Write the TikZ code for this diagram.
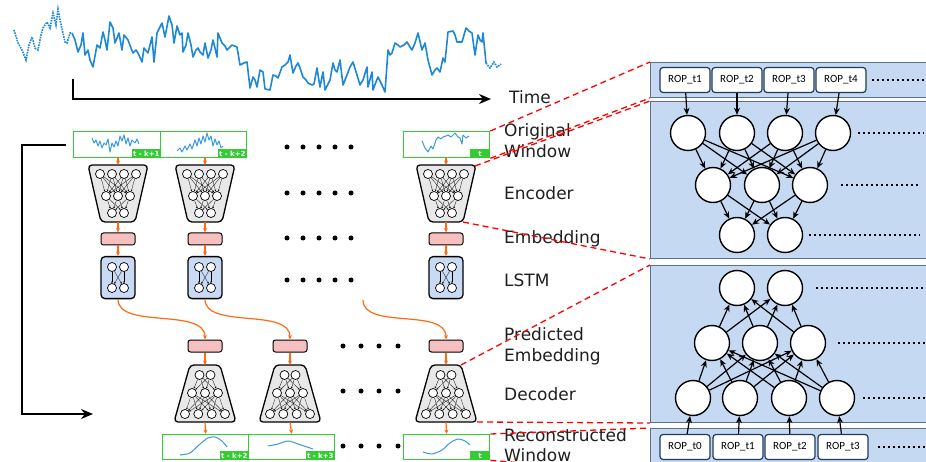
\documentclass[tikz,border=0pt]{standalone}
\usepackage{fontspec}
\setmainfont{DejaVu Sans}
\newfontfamily\ropfont{Carlito}
\usetikzlibrary{arrows.meta}
\definecolor{ser}{HTML}{1E88D6}
\definecolor{wser}{HTML}{3A9AD9}
\definecolor{grn}{HTML}{33CC33}
\definecolor{org}{HTML}{FF6A13}
\definecolor{pnk}{HTML}{F7C0C0}
\definecolor{lblue}{HTML}{C6D9F3}
\definecolor{lstmblue}{HTML}{C9DAF5}
\definecolor{pborder}{HTML}{5B6F8E}
\definecolor{navy}{HTML}{1F3A5F}
\definecolor{encgray}{HTML}{E8E8E8}
\tikzset{
  win/.style={draw=grn, line width=1.3pt, minimum width=86pt, minimum height=26pt, inner sep=0, anchor=north west},
  tag/.style={fill=grn, text=white, font=\bfseries\fontsize{7}{7}\selectfont, inner xsep=1.5pt, inner ysep=0pt, minimum height=9pt, anchor=south east},
  emb/.style={draw, fill=pnk, rounded corners=2.5pt, line width=1pt, minimum width=34pt, minimum height=12pt, inner sep=0},
  oarr/.style={draw=org, line width=1.2pt, -{Stealth[length=4.5pt,width=4pt]}},
  mini/.style={circle, draw, fill=white, line width=0.7pt, inner sep=0, minimum size=9pt},
  tiny/.style={line width=0.3pt, -{Stealth[length=1.8pt,width=1.8pt]}},
  net/.style={circle, draw, fill=white, line width=1.4pt, minimum size=35pt, inner sep=0},
  rop/.style={draw=navy, fill=white, rounded corners=3pt, line width=1.2pt, minimum width=50pt, minimum height=25pt, font=\ropfont\fontsize{11}{11}\selectfont, inner sep=0},
  narr/.style={line width=1.2pt, -{Stealth[length=7pt,width=6pt]}},
  panel/.style={draw=pborder, fill=lblue, line width=1pt, anchor=north west, inner sep=0, minimum width=300pt},
  rdash/.style={draw=red, line width=1.3pt, dash pattern=on 6pt off 4pt},
  lbl/.style={anchor=base west, font=\fontsize{17}{21}\selectfont, text=black!88, inner sep=0},
  bigdot/.style={circle, fill=black, inner sep=0, minimum size=5pt},
  pdots/.style={line width=2.2pt, dash pattern=on 2.2pt off 2.8pt},
  encpic/.pic={
    \node[inner sep=0, minimum width=60pt, minimum height=57pt, anchor=north] (-box) at (0,0) {};
    \draw[line width=1.3pt, fill=encgray, rounded corners=4pt] (-30,0) -- (30,0) -- (17,57) -- (-17,57) -- cycle;
    \coordinate (-tr) at (29,1);
    \coordinate (-br) at (17,57);
    \foreach \x [count=\i] in {-18,-6,6,18} \node[mini] (-a\i) at (\x,9) {};
    \foreach \x [count=\i] in {-12,0,12} \node[mini] (-b\i) at (\x,31) {};
    \foreach \x [count=\i] in {-6,6} \node[mini] (-c\i) at (\x,48) {};
    \foreach \i in {1,...,4} \foreach \j in {1,2,3} \draw[tiny] (-a\i) -- (-b\j);
    \foreach \i in {1,2,3} \foreach \j in {1,2} \draw[tiny] (-b\i) -- (-c\j);
  },
  decpic/.pic={
    \node[inner sep=0, minimum width=62pt, minimum height=57pt, anchor=north] (-box) at (0,0) {};
    \draw[line width=1.3pt, fill=encgray, rounded corners=4pt] (-15,0) -- (15,0) -- (31,57) -- (-31,57) -- cycle;
    \coordinate (-tr) at (15,0);
    \coordinate (-br) at (31,57);
    \foreach \x [count=\i] in {-5.5,5.5} \node[mini] (-a\i) at (\x,10) {};
    \foreach \x [count=\i] in {-13,0,13} \node[mini] (-b\i) at (\x,28) {};
    \foreach \x [count=\i] in {-20,-6.7,6.7,20} \node[mini] (-c\i) at (\x,49) {};
    \foreach \i in {1,2} \foreach \j in {1,2,3} \draw[tiny] (-a\i) -- (-b\j);
    \foreach \i in {1,2,3} \foreach \j in {1,...,4} \draw[tiny] (-b\i) -- (-c\j);
  },
  lstmpic/.pic={
    \node[draw, fill=lstmblue, rounded corners=4pt, line width=1.3pt, minimum width=34pt, minimum height=42pt, anchor=north, inner sep=0] (-box) at (0,0) {};
    \node[mini] (-a1) at (-6,11) {};
    \node[mini] (-a2) at (6,11) {};
    \node[mini] (-b1) at (-6,32) {};
    \node[mini] (-b2) at (6,32) {};
    \foreach \i in {1,2} \foreach \j in {1,2} \draw[tiny] (-a\i) -- (-b\j);
  }
}
\begin{document}
\begin{tikzpicture}[x=1pt,y=-1pt]
\useasboundingbox (0,0) rectangle (926,462);

% ---------- time series ----------
\draw[ser, line width=1.6pt, line join=round] plot coordinates {(72,33) (75,40) (78,52) (81,45) (83,33) (85,55) (88,50) (90,60) (93,67) (97,45) (100,48) (103,32) (105,40) (107,50) (110,22) (113,28) (115,43) (119,33) (122,50) (124,35) (128,40) (131,48) (133,53) (136,50) (138,53) (142,62) (144,48) (148,53) (152,37) (154,62) (157,33) (160,27) (162,23) (165,37) (169,16) (172,25) (174,43) (177,26) (180,35) (182,33) (183,52) (186,45) (188,33) (191,45) (193,57) (196,50) (198,48) (200,52) (203,55) (205,43) (208,58) (211,50) (213,40) (215,48) (217,57) (218,33) (222,43) (225,46) (227,50) (230,47) (232,45) (237,47) (240,65) (244,63) (247,62) (250,88) (253,77) (255,80) (257,87) (260,70) (263,72) (265,89) (270,90) (273,75) (276,76) (278,78) (282,67) (285,65) (288,62) (290,55) (293,73) (296,66) (298,63) (300,68) (303,77) (306,80) (308,83) (312,85) (314,84) (317,68) (320,87) (323,72) (325,90) (328,84) (330,80) (333,63) (335,70) (337,72) (340,60) (343,85) (347,75) (350,67) (353,62) (357,75) (360,85) (363,80) (367,67) (368,87) (372,72) (373,90) (376,82) (378,77) (382,85) (385,92) (388,50) (390,55) (392,53) (395,43) (398,45) (400,47) (404,45) (407,42) (410,47) (412,50) (415,43) (418,33) (422,50) (425,43) (428,60) (432,75) (435,70) (437,68) (440,72) (443,58) (445,62) (448,32) (453,31) (455,35) (457,42) (462,42) (464,35) (466,28) (469,31) (472,33) (475,55) (478,35) (480,40) (482,42) (483,33) (486,63)};
\draw[ser, line width=1.6pt, densely dotted] plot coordinates {(14,30) (18,43) (22,50) (26,60) (29,45) (32,37) (35,48) (38,50) (41,35) (43,28) (47,22) (50,28) (53,13) (56,25) (58,9) (60,20) (63,33) (65,42) (67,43) (70,33) (72,33)};
\draw[ser, line width=1.6pt, densely dotted] plot coordinates {(486,63) (490,68) (494,62) (497,67) (501,64)};

% ---------- time axis ----------
\coordinate (ta) at (73,79);
\coordinate (tb) at (491,99);
\draw[line width=1.5pt, -{Stealth[length=12pt,width=10pt]}] (ta) |- (tb);

% ---------- original windows ----------
\node[win, minimum width=87pt] (ow1) at (73,131) {};
\node[win] (ow2) at (160,131) {};
\node[win] (ow3) at (403,131) {};
\node[tag] (tg1) at (ow1.south east) {t - k+1};
\node[tag] (tg2) at (ow2.south east) {t - k+2};
\node[tag, minimum width=20pt] (tg3) at (ow3.south east) {t};
\draw[wser, line width=1pt, line join=round] plot coordinates {(92,138) (94,143) (96,140) (98,146) (100,141) (102,148) (104,143) (106,145) (108,139) (110,152) (112,143) (114,147) (116,141) (118,146) (120,136) (122,141) (124,135) (126,144) (128,138) (130,146) (132,140) (135,143) (137,139) (139,144)};
\draw[wser, line width=1pt, line join=round] plot coordinates {(177,151) (180,148) (182,152) (185,146) (187,150) (190,144) (192,149) (195,140) (197,146) (199,138) (201,144) (203,136) (205,142) (207,133) (209,140) (211,136) (213,146) (215,139) (217,145) (219,141) (221,148) (223,146)};
\draw[wser, line width=1pt, line join=round] plot coordinates {(422,141) (425,148) (428,152) (431,146) (433,149) (436,140) (438,137) (441,139) (443,137) (446,136) (448,135) (451,137) (453,135) (455,133) (458,137) (460,138) (462,144) (463,135) (466,138) (469,136)};

% ---------- encoders, embeddings, LSTMs ----------
\pic (e1) at (118,165) {encpic};
\pic (e2) at (205,165) {encpic};
\pic (e3) at (446,165) {encpic};
\node[emb] (m1) at (118,239) {};
\node[emb] (m2) at (205,239) {};
\node[emb] (m3) at (446,239) {};
\pic (l1) at (118,256) {lstmpic};
\pic (l2) at (205,256) {lstmpic};
\pic (l3) at (446,256) {lstmpic};
\foreach \k in {1,2,3} {
  \draw[oarr] (ow\k.south -| e\k-box.north) -- (e\k-box.north);
  \draw[oarr] (e\k-box.south) -- (m\k.north);
  \draw[oarr] (m\k.south) -- (l\k-box.north);
}

% ---------- decoder side ----------
\node[emb] (n1) at (205,346) {};
\node[emb] (n2) at (290,346) {};
\node[emb] (n3) at (446,346) {};
\pic (d1) at (205,365) {decpic};
\pic (d2) at (290,365) {decpic};
\pic (d3) at (446,365) {decpic};
\node[win, minimum height=25pt] (rw1) at (162,434) {};
\node[win, minimum height=25pt] (rw2) at (248,434) {};
\node[win, minimum height=25pt] (rw3) at (403,434) {};
\node[tag] (tr1) at (rw1.south east) {t - k+2};
\node[tag] (tr2) at (rw2.south east) {t - k+3};
\node[tag, minimum width=20pt] (tr3) at (rw3.south east) {t};
\draw[wser, line width=1pt] plot[smooth] coordinates {(180,455) (190,453) (200,444) (208,438) (215,437) (222,441) (227,447)};
\draw[wser, line width=1pt] plot[smooth] coordinates {(268,446) (278,444) (288,441) (298,444) (313,449)};
\draw[wser, line width=1pt] plot[smooth] coordinates {(423,452) (432,454) (442,450) (450,443) (458,439) (465,441) (470,445)};
\foreach \k in {1,2,3} {
  \draw[oarr] (n\k.south) -- (d\k-box.north);
  \draw[oarr] (d\k-box.south) -- (rw\k.north);
}
\coordinate (c3s) at (363,300);
\draw[oarr] (l1-box.south) .. controls +(0,30) and +(0,-32) .. (n1.north);
\draw[oarr] (l2-box.south) .. controls +(0,30) and +(0,-32) .. (n2.north);
\draw[oarr] (c3s) .. controls +(0,30) and +(0,-32) .. (n3.north);

% ---------- ellipsis dots ----------
\foreach \y [count=\r] in {147,193,238,280}
  \foreach \x [count=\c] in {287,303,319,335,351}
    \node[bigdot] (da\r\c) at (\x,\y) {};
\foreach \y [count=\r] in {346,391,446}
  \foreach \x [count=\c] in {343,361,379,398}
    \node[bigdot] (db\r\c) at (\x,\y) {};

% ---------- feedback arrow ----------
\coordinate (fbs) at (66,145);
\coordinate (fbe) at (93,414);
\draw[line width=1.5pt, -{Stealth[length=12pt,width=10pt]}] (fbs) -- (22,145) |- (fbe);

% ---------- labels ----------
\node[lbl] (ltime) at (509,104) {Time};
\node[lbl] (lorig1) at (504,137) {Original};
\node[lbl] (lorig2) at (504,158) {Window};
\node[lbl] (lenc) at (504,200) {Encoder};
\node[lbl] (lemb) at (504,244) {Embedding};
\node[lbl] (llstm) at (504,287) {LSTM};
\node[lbl] (lpred1) at (504,340) {Predicted};
\node[lbl] (lpred2) at (504,361) {Embedding};
\node[lbl] (ldec) at (504,400) {Decoder};
\node[lbl] (lrec1) at (504,441) {Reconstructed};
\node[lbl] (lrec2) at (504,461) {Window};

% ---------- right panels ----------
\node[panel, minimum height=35pt] (pa) at (650,62) {};
\node[panel, minimum height=157pt] (pb) at (650,101) {};
\node[panel, minimum height=157pt] (pc) at (650,265) {};
\node[panel, minimum height=45pt] (pd) at (650,428) {};

% dashed zoom lines
\draw[rdash] (ow3.north east) -- (pa.north west);
\draw[rdash] (ow3.south east) -- (pa.south west);
\draw[rdash] (e3-tr) -- (pb.north west);
\draw[rdash] (e3-br) -- (pb.south west);
\draw[rdash] (d3-tr) -- (pc.north west);
\draw[rdash] (d3-br) -- (pc.south west);
\draw[rdash] (rw3.north east) -- (pd.north west);
\draw[rdash] (rw3.south east) -- (pd.south west);

% encoder network
\foreach \x [count=\i] in {685,737,789,841} \node[rop] (ra\i) at (\x,80) {ROP\_t\i};
\foreach \x [count=\i] in {688,737,785,833} \node[net] (ta\i) at (\x,133) {};
\foreach \x [count=\i] in {713,762,810} \node[net] (tb\i) at (\x,185) {};
\foreach \x [count=\i] in {737,785} \node[net] (tc\i) at (\x,235) {};
\foreach \i in {1,...,4} \draw[narr] (ra\i) -- (ta\i);
\foreach \i in {1,...,4} \foreach \j in {1,2,3} \draw[narr] (ta\i) -- (tb\j);
\foreach \i in {1,2,3} \foreach \j in {1,2} \draw[narr] (tb\i) -- (tc\j);
\coordinate (qa) at (926,80);
\coordinate (qb) at (924,133);
\coordinate (qc) at (920,185);
\coordinate (qd) at (920,235);
\draw[pdots] ([xshift=5pt]ra4.east) -- (qa);
\draw[pdots] ([xshift=7pt]ta4.east) -- (qb);
\draw[pdots] ([xshift=13pt]tb3.east) -- (qc);
\draw[pdots] ([xshift=6pt]tc2.east) -- (qd);

% decoder network
\foreach \x [count=\i] in {737,785} \node[net] (ba\i) at (\x,288) {};
\foreach \x [count=\i] in {712,760,808} \node[net] (bb\i) at (\x,343) {};
\foreach \x [count=\i] in {693,740,789,837} \node[net] (bc\i) at (\x,398) {};
\foreach \x [count=\i] in {685,738,790,843} {
  \pgfmathtruncatemacro{\tn}{\i-1}
  \node[rop] (rb\i) at (\x,447) {ROP\_t\tn};
}
\foreach \i in {1,...,4} \draw[narr] (rb\i) -- (bc\i);
\foreach \i in {1,...,4} \foreach \j in {1,2,3} \draw[narr] (bc\i) -- (bb\j);
\foreach \i in {1,2,3} \foreach \j in {1,2} \draw[narr] (bb\i) -- (ba\j);
\coordinate (qe) at (926,288);
\coordinate (qf) at (926,343);
\coordinate (qg) at (926,398);
\coordinate (qh) at (926,447);
\draw[pdots] ([xshift=13pt]ba2.east) -- (qe);
\draw[pdots] ([xshift=12pt]bb3.east) -- (qf);
\draw[pdots] ([xshift=8pt]bc4.east) -- (qg);
\draw[pdots] ([xshift=9pt]rb4.east) -- (qh);
\end{tikzpicture}
\end{document}
